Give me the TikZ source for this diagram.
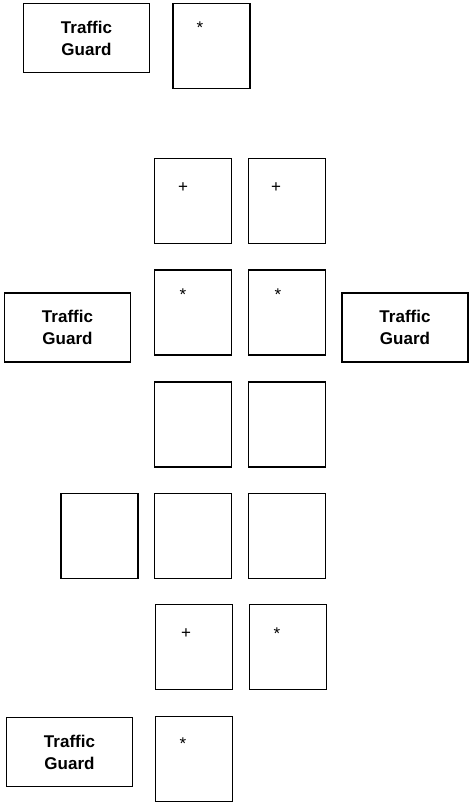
\documentclass[tikz,border=0pt]{standalone}
\usepackage{fontspec}
\setmainfont{Liberation Sans}
\begin{document}
\begin{tikzpicture}[x=1pt,y=-1pt,
  box/.style={draw=black,line width=1.1pt,fill=white,inner sep=0pt},
  guard/.style={box,minimum width=126pt,minimum height=69pt,align=center,font=\fontsize{17}{22}\selectfont\bfseries},
  cell/.style={box,minimum width=77pt,minimum height=85pt},
  sym/.style={font=\fontsize{17}{17}\selectfont,inner sep=0pt}]
\useasboundingbox (0,0) rectangle (471,803);
% top
\node[guard] (g1) at (86.5,38) {Traffic\\Guard};
\node[cell] (t1) at (211.5,46) {};
\node[sym] (t1m) at (200,28) {*};
% row 2
\node[cell] (a1) at (193,201) {};
\node[cell] (a2) at (287,201) {};
\node[sym] (a1m) at (183,188) {+};
\node[sym] (a2m) at (276,188) {+};
% row 3
\node[guard] (g2) at (67.5,327.5) {Traffic\\Guard};
\node[cell] (b1) at (193,312.5) {};
\node[cell] (b2) at (287,312.5) {};
\node[sym] (b1m) at (183,295) {*};
\node[sym] (b2m) at (278,295) {*};
\node[guard] (g3) at (405,327.5) {Traffic\\Guard};
% row 4
\node[cell] (c1) at (193,424.5) {};
\node[cell] (c2) at (287,424.5) {};
% row 5
\node[cell] (d0) at (99.5,536) {};
\node[cell] (d1) at (193,536) {};
\node[cell] (d2) at (287,536) {};
% row 6
\node[cell] (e1) at (194,647) {};
\node[cell] (e2) at (288,647) {};
\node[sym] (e1m) at (186,634) {+};
\node[sym] (e2m) at (277,634) {*};
% row 7
\node[guard] (g4) at (69.5,752) {Traffic\\Guard};
\node[cell] (f1) at (194,759) {};
\node[sym] (f1m) at (183,744) {*};
\end{tikzpicture}
\end{document}
